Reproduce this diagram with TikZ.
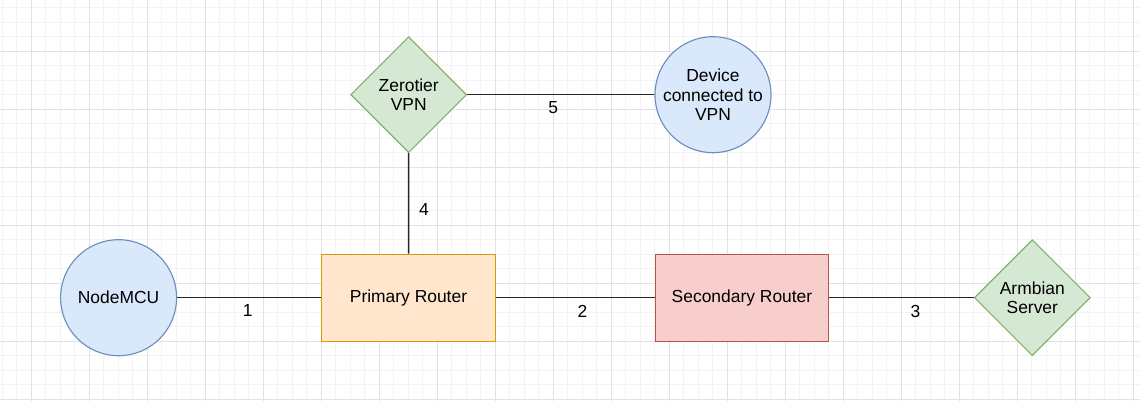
\documentclass[tikz,border=0pt]{standalone}
\usepackage{fontspec}
\setmainfont{Liberation Sans}
\usetikzlibrary{shapes.geometric}
\definecolor{mblue}{HTML}{DAE8FC}
\definecolor{mbluedraw}{HTML}{6C8EBF}
\definecolor{mgreen}{HTML}{D5E8D4}
\definecolor{mgreendraw}{HTML}{82B366}
\definecolor{morange}{HTML}{FFE6CC}
\definecolor{morangedraw}{HTML}{D79B00}
\definecolor{mred}{HTML}{F8CECC}
\definecolor{mreddraw}{HTML}{B85450}
\definecolor{gridminor}{HTML}{F3F3F3}
\definecolor{gridmajor}{HTML}{E2E2E2}

\begin{document}
\begin{tikzpicture}[x=0.025cm, y=-0.025cm,
    every node/.style={font=\fontsize{12.4}{14}\selectfont},
    endpoint/.style={circle, draw=mbluedraw, fill=mblue, line width=0.8pt, minimum size=2.9cm, inner sep=0pt, align=center},
    gateway/.style={diamond, draw=mgreendraw, fill=mgreen, line width=0.8pt, minimum width=2.9cm, minimum height=2.9cm, inner sep=0pt, align=center},
    router/.style={rectangle, line width=0.8pt, minimum width=4.34cm, minimum height=2.17cm},
    link/.style={line width=1.05pt, draw=black!85},
    num/.style={inner sep=0pt}]
    \fill[white] (0,0) rectangle (1140,401);
    \useasboundingbox (0,0) rectangle (1140,401);
    \foreach \gx in {2.3,16.8,...,1140} \draw[gridminor, line width=0.6pt] (\gx,0) -- (\gx,401);
    \foreach \gy in {7.8,22.3,...,401} \draw[gridminor, line width=0.6pt] (0,\gy) -- (1140,\gy);
    \foreach \gx in {31.3,89.3,...,1140} \draw[gridmajor, line width=0.6pt] (\gx,0) -- (\gx,401);
    \foreach \gy in {51.3,109.3,...,401} \draw[gridmajor, line width=0.6pt] (0,\gy) -- (1140,\gy);

    \node[endpoint] (nodemcu)   at (118.6, 297.7) {NodeMCU};
    \node[router, draw=morangedraw, fill=morange] (primary)   at (408.5, 297.7) {Primary Router};
    \node[router, draw=mreddraw, fill=mred]       (secondary) at (742, 297.7) {Secondary Router};
    \node[gateway] (armbian)  at (1032.3, 297.7) {Armbian\\Server};
    \node[gateway] (zerotier) at (408.7, 94.7) {Zerotier\\VPN};
    \node[endpoint] (vpndevice) at (713, 94.7) {Device\\connected to\\VPN};

    \draw[link] (nodemcu) -- (primary) node[pos=.49, below=0.16cm, num] {1};
    \draw[link] (primary) -- (secondary) node[pos=.546, below=0.16cm, num] {2};
    \draw[link] (secondary) -- (armbian) node[pos=.597, below=0.16cm, num] {3};
    \draw[link] (primary) -- (zerotier) node[pos=.436, right=0.245cm, num] {4};
    \draw[link] (zerotier) -- (vpndevice) node[pos=.459, below=0.16cm, num] {5};
\end{tikzpicture}
\end{document}
